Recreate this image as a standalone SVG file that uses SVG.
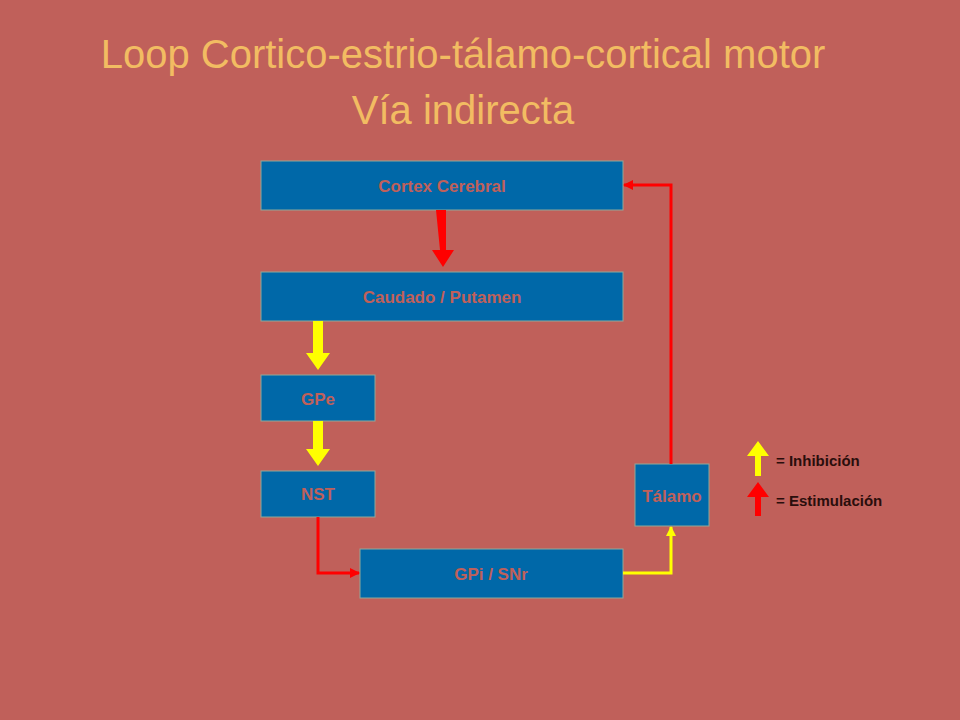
<svg xmlns="http://www.w3.org/2000/svg" width="960" height="720" viewBox="0 0 960 720">
<defs>
<style>
.box{fill:#0068A8;stroke:#8FA89A;stroke-width:1}
.lbl{font-family:"Liberation Sans",Arial,sans-serif;font-weight:bold;font-size:17px;fill:#C0605A;text-anchor:middle}
.title{font-family:"Liberation Sans",Arial,sans-serif;font-size:40px;fill:#F2BC62;text-anchor:middle}
.leg{font-family:"Liberation Sans",Arial,sans-serif;font-weight:bold;font-size:15px;fill:#2A0E0C}
</style>
<marker id="ar" markerWidth="10" markerHeight="10" refX="9" refY="5" orient="auto" markerUnits="userSpaceOnUse"><path d="M0,0 L10,5 L0,10 z" fill="#FF0000"/></marker>
<marker id="ay" markerWidth="10" markerHeight="10" refX="9" refY="5" orient="auto" markerUnits="userSpaceOnUse"><path d="M0,0 L10,5 L0,10 z" fill="#FFFF00"/></marker>
</defs>
<rect width="960" height="720" fill="#C0605A"/>
<text class="title" x="463" y="68">Loop Cortico-estrio-tálamo-cortical motor</text>
<text class="title" x="463" y="124">Vía indirecta</text>
<g id="cortex"><rect class="box" x="261" y="161" width="362" height="49"/><text class="lbl" x="442" y="192">Cortex Cerebral</text></g>
<g id="caudado"><rect class="box" x="261" y="272" width="362" height="49"/><text class="lbl" x="442" y="303">Caudado / Putamen</text></g>
<g id="gpe"><rect class="box" x="261" y="375" width="114" height="46"/><text class="lbl" x="318" y="405">GPe</text></g>
<g id="nst"><rect class="box" x="261" y="471" width="114" height="46"/><text class="lbl" x="318" y="500">NST</text></g>
<g id="gpi"><rect class="box" x="360" y="549" width="263" height="49"/><text class="lbl" x="491" y="580">GPi / SNr</text></g>
<g id="talamo"><rect class="box" x="635" y="464" width="74" height="62"/><text class="lbl" x="672" y="502">Tálamo</text></g>
<g id="connectors">
<path d="M436,210 h10 v40 h8 l-11,17 l-11,-17 h8 z" fill="#FF0000"/>
<path d="M313,321 h10 v32 h7 l-12,17 l-12,-17 h7 z" fill="#FFFF00"/>
<path d="M313,421 h10 v28 h7 l-12,17 l-12,-17 h7 z" fill="#FFFF00"/>
<polyline points="318,517 318,573 359,573" fill="none" stroke="#FF0000" stroke-width="3" marker-end="url(#ar)"/>
<polyline points="623,573 671,573 671,527" fill="none" stroke="#FFFF00" stroke-width="3" marker-end="url(#ay)"/>
<polyline points="671,464 671,185 624,185" fill="none" stroke="#FF0000" stroke-width="3" marker-end="url(#ar)"/>
</g>
<g id="legend">
<path d="M755,476 v-20 h-8 l11,-15 l11,15 h-8 v20 z" fill="#FFFF00"/>
<path d="M755,516 v-19 h-8 l11,-15 l11,15 h-8 v19 z" fill="#FF0000"/>
<text class="leg" x="776" y="466">= Inhibición</text>
<text class="leg" x="776" y="506">= Estimulación</text>
</g>
</svg>
